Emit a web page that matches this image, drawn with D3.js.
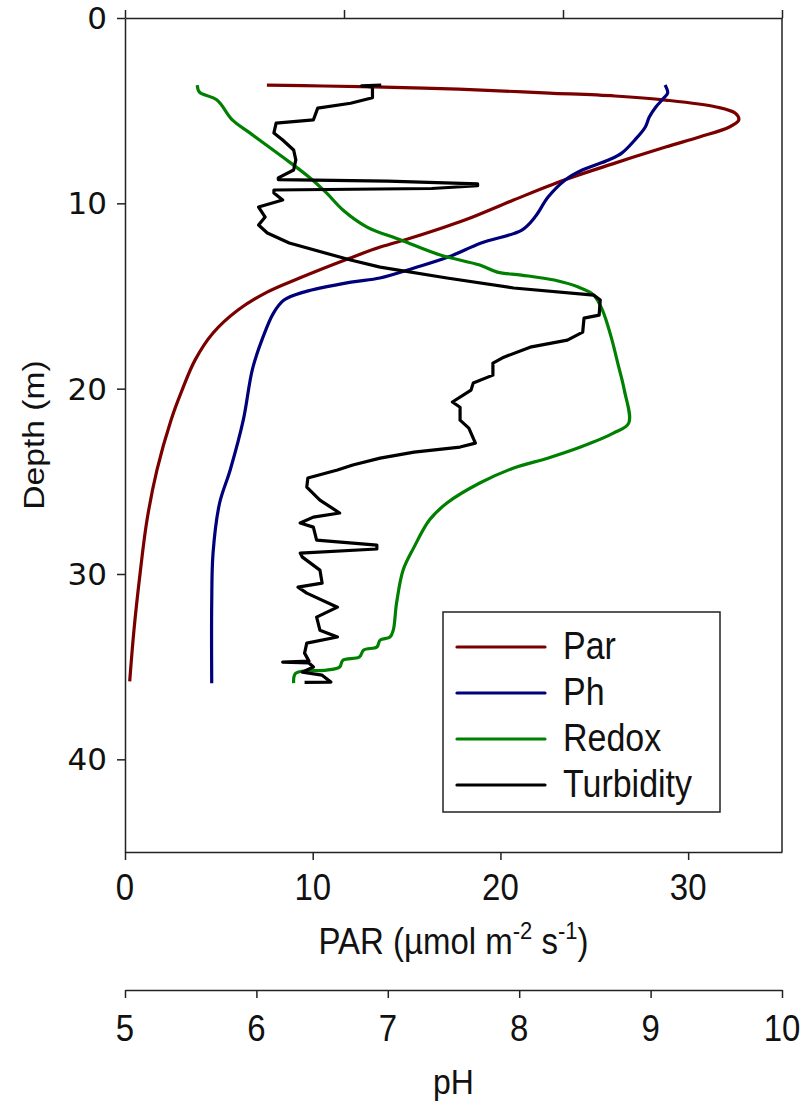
<!DOCTYPE html>
<html>
<head>
<meta charset="utf-8">
<script src="https://cdn.jsdelivr.net/npm/d3@7"></script>
<style>
  body { margin: 0; background: #fff; }
  text { font-family: "Liberation Sans", Arial, sans-serif; fill: #111; }
</style>
</head>
<body>
<svg id="chart" width="808" height="1109"></svg>
<script>
// depth (m) of each reading, per sensor
var parDepth = [3.62, 3.67, 3.78, 3.89, 4.05, 4.21, 4.43, 4.8, 5.13, 5.5, 5.88, 6.42, 6.96, 7.83, 8.74, 9.82, 10.9, 11.82, 12.36, 12.95, 14.03, 14.79, 15.76, 17.0, 18.46, 20.08, 21.7, 24.4, 27.1, 30.0, 33.0, 35.8];
var parValue = [7.56, 10.56, 15.9, 19.0, 22.6, 26.1, 28.8, 31.5, 32.5, 32.7, 32.2, 30.6, 28.8, 26.1, 23.4, 20.7, 18.1, 15.4, 13.6, 12.0, 9.3, 7.57, 6.02, 4.69, 3.73, 3.04, 2.45, 1.7, 1.17, 0.8, 0.48, 0.25];

var phDepth = [3.62, 4.05, 4.32, 4.8, 5.34, 5.88, 6.58, 7.29, 7.66, 8.2, 8.74, 9.66, 10.74, 11.44, 12.14, 12.9, 13.49, 14.03, 14.25, 14.79, 15.22, 15.92, 17.22, 18.94, 21.7, 24.4, 26.17, 28.87, 31.57, 35.89];
var phValue = [9.11, 9.13, 9.10, 9.04, 8.99, 8.96, 8.88, 8.78, 8.68, 8.48, 8.35, 8.22, 8.12, 8.02, 7.71, 7.46, 7.20, 6.94, 6.72, 6.36, 6.21, 6.13, 6.05, 5.97, 5.90, 5.80, 5.72, 5.67, 5.66, 5.66];

// redox and turbidity share the unlabelled top axis
var redoxDepth = [3.62, 4.0, 4.43, 5.5, 6.2, 7.5, 8.58, 9.44, 10.36, 11.28, 11.98, 12.79, 13.33, 13.71, 13.87, 14.14, 14.52, 14.95, 15.76, 17.22, 18.62, 20.08, 21.86, 22.4, 23.15, 23.75, 24.28, 25.09, 26.17, 27.09, 28.55, 29.79, 31.57, 33.03, 33.4, 33.57, 33.94, 34.1, 34.48, 34.65, 35.02, 35.19, 35.35, 35.89];
var redoxValue = [3.3, 3.4, 4.2, 4.9, 5.7, 7.2, 8.4, 9.2, 9.95, 11.05, 12.6, 14.4, 16.2, 17.0, 18.1, 19.6, 20.7, 21.4, 21.8, 22.2, 22.5, 22.8, 23.0, 22.3, 20.8, 19.3, 17.75, 16.2, 14.7, 13.9, 13.2, 12.7, 12.4, 12.25, 12.1, 11.65, 11.5, 10.9, 10.7, 9.95, 9.8, 9.2, 7.8, 7.7];

var turbDepth = [3.62, 3.66, 3.72, 4.3, 4.6, 4.86, 5.5, 5.67, 6.2, 6.58, 7.12, 7.66, 8.2, 8.63, 8.72, 8.8, 8.95, 9.05, 9.2, 9.28, 9.44, 9.82, 10.2, 10.74, 11.17, 11.6, 12.14, 13.06, 13.44, 14.03, 14.57, 14.95, 15.22, 16.03, 16.19, 16.95, 17.38, 17.76, 18.3, 18.62, 19.27, 19.7, 20.08, 20.72, 21.0, 21.7, 22.13, 22.94, 23.15, 23.42, 23.75, 24.12, 24.39, 24.82, 25.31, 26.01, 26.71, 26.93, 27.25, 27.47, 28.17, 28.44, 28.65, 28.87, 29.09, 29.79, 30.49, 30.71, 31.03, 31.79, 32.33, 33.03, 33.4, 33.73, 34.27, 34.7, 34.75, 34.8, 35.02, 35.3, 35.46, 35.83, 35.85];
var turbValue = [11.7, 10.8, 11.3, 11.3, 10.3, 8.8, 8.6, 6.9, 6.8, 7.2, 7.7, 7.8, 7.7, 7.0, 7.0, 12.0, 16.1, 16.1, 14.0, 6.8, 6.8, 7.2, 6.1, 6.4, 6.1, 6.5, 7.5, 10.3, 11.65, 14.7, 17.75, 21.4, 21.7, 21.65, 20.96, 20.9, 20.2, 18.5, 17.3, 16.8, 16.8, 15.9, 15.8, 14.95, 15.3, 15.3, 15.7, 16.0, 15.3, 13.2, 11.65, 10.4, 9.7, 8.35, 8.3, 8.9, 9.8, 8.6, 8.0, 8.6, 8.75, 11.5, 11.5, 8.0, 8.1, 8.9, 9.0, 7.9, 8.3, 9.7, 8.75, 8.9, 9.7, 8.3, 8.2, 8.4, 7.2, 8.4, 8.6, 8.1, 9.0, 9.4, 8.2];

var depthTicks = [0, 10, 20, 30, 40];
var parTicks = [0, 10, 20, 30];
var phTicks = [5, 6, 7, 8, 9, 10];
var topTicks = [0, 10, 20, 30];

var seriesNames = ["Par", "Ph", "Redox", "Turbidity"];
var seriesColors = ["#7a0000", "#00007a", "#008000", "#000000"];

var plotLeft = 125, plotRight = 782, plotTop = 18, plotBottom = 852,
    plotMidX = (plotLeft + plotRight) / 2,
    phAxisY = 990,
    stretch = 1.12,
    svg = d3.select("#chart");

var yDepth = d3.scaleLinear().domain([0, 45]).range([plotTop, plotBottom]);
var xPar = d3.scaleLinear().domain([0, 35]).range([plotLeft, plotRight]);
var xPh = d3.scaleLinear().domain([5, 10]).range([plotLeft, plotRight]);
var xTop = d3.scaleLinear().domain([0, 30]).range([plotLeft, plotRight]);

function zip(depths, values) {
    return depths.map(function(d, i) { return { depth: d, value: values[i] }; });
}

// text is a bit taller than wide in the original, so stretch it through a scale
function label(x, y, str, size, anchor) {
    return svg.append("g")
        .attr("transform", "translate(" + x + "," + y + ") scale(1," + stretch + ")")
        .append("text")
        .attr("font-size", size)
        .attr("text-anchor", anchor || "middle")
        .text(str);
}

function styleAxis(g) {
    g.selectAll("path, line").attr("stroke", "#222").attr("stroke-width", 1.5);
    g.selectAll("text").remove();
}

// frame: left, bottom, top, right
svg.append("g").attr("transform", "translate(" + plotLeft + ",0)")
    .call(d3.axisLeft(yDepth).tickValues(depthTicks).tickSize(8).tickSizeOuter(0))
    .call(styleAxis);
svg.append("g").attr("transform", "translate(0," + plotBottom + ")")
    .call(d3.axisBottom(xPar).tickValues(parTicks).tickSize(8).tickSizeOuter(0))
    .call(styleAxis);
svg.append("g").attr("transform", "translate(0," + plotTop + ")")
    .call(d3.axisTop(xTop).tickValues(topTicks).tickSize(8).tickSizeOuter(0))
    .call(styleAxis);
svg.append("line")
    .attr("x1", plotRight).attr("x2", plotRight).attr("y1", plotTop).attr("y2", plotBottom)
    .attr("stroke", "#222").attr("stroke-width", 1.5);
svg.append("g").attr("transform", "translate(0," + phAxisY + ")")
    .call(d3.axisBottom(xPh).tickValues(phTicks).tickSize(8).tickSizeOuter(0))
    .call(styleAxis);

// tick labels
depthTicks.forEach(function(t) {
    svg.append("text")
        .attr("x", plotLeft - 18).attr("y", yDepth(t) + 11)
        .attr("text-anchor", "end")
        .attr("font-size", 31)
        .style("font-family", "'DejaVu Sans', Verdana, sans-serif")
        .text(t);
});
parTicks.forEach(function(t) { label(xPar(t), plotBottom + 48, t, 33); });
phTicks.forEach(function(t) { label(xPh(t), phAxisY + 51, t, 33); });

// axis titles, centred on the plot
svg.append("g")
    .attr("transform", "translate(44," + yDepth(22.5) + ") rotate(-90) scale(" + stretch + ",1)")
    .append("text")
    .attr("text-anchor", "middle")
    .attr("font-size", 30)
    .text("Depth (m)");

var parTitle = label(plotMidX, 954, "", 33);
parTitle.append("tspan").text("PAR (µmol m");
parTitle.append("tspan").attr("font-size", 22).attr("dy", -13).text("-2");
parTitle.append("tspan").attr("dy", 13).text(" s");
parTitle.append("tspan").attr("font-size", 22).attr("dy", -13).text("-1");
parTitle.append("tspan").attr("dy", 13).text(")");

label(plotMidX, 1094, "pH", 32);

// profiles
var line = d3.line()
    .x(function(d) { return d.x; })
    .y(function(d) { return yDepth(d.depth); });

var smooth = d3.curveCatmullRom.alpha(0.5);
var profiles = [
    { name: "Par", data: zip(parDepth, parValue), x: xPar, curve: smooth },
    { name: "Ph", data: zip(phDepth, phValue), x: xPh, curve: smooth },
    { name: "Redox", data: zip(redoxDepth, redoxValue), x: xTop, curve: smooth },
    { name: "Turbidity", data: zip(turbDepth, turbValue), x: xTop, curve: d3.curveLinear }
];

svg.selectAll("path.profile")
    .data(profiles)
    .enter()
    .append("path")
    .attr("class", "profile")
    .attr("fill", "none")
    .attr("stroke", function(d) { return seriesColors[seriesNames.indexOf(d.name)]; })
    .attr("stroke-width", 3.2)
    .attr("stroke-linejoin", "round")
    .attr("d", function(p) {
        p.data.forEach(function(d) { d.x = p.x(d.value); });
        return line.curve(p.curve)(p.data);
    });

// legend
var legend = svg.append("g").attr("transform", "translate(443,612)");
legend.append("rect")
    .attr("width", 277).attr("height", 200)
    .attr("fill", "#fff").attr("stroke", "#222").attr("stroke-width", 1.5);
var item = legend.selectAll("g.item")
    .data(seriesNames)
    .enter()
    .append("g")
    .attr("class", "item")
    .attr("transform", function(d, i) { return "translate(0," + (35 + i * 46) + ")"; });
item.append("line")
    .attr("x1", 14).attr("x2", 102)
    .attr("stroke", function(d, i) { return seriesColors[i]; })
    .attr("stroke-width", 3.2)
    .attr("stroke-linecap", "round");
item.append("g")
    .attr("transform", "translate(120,12) scale(1," + stretch + ")")
    .append("text")
    .attr("font-size", 34)
    .text(function(d) { return d; });
</script>
</body>
</html>
